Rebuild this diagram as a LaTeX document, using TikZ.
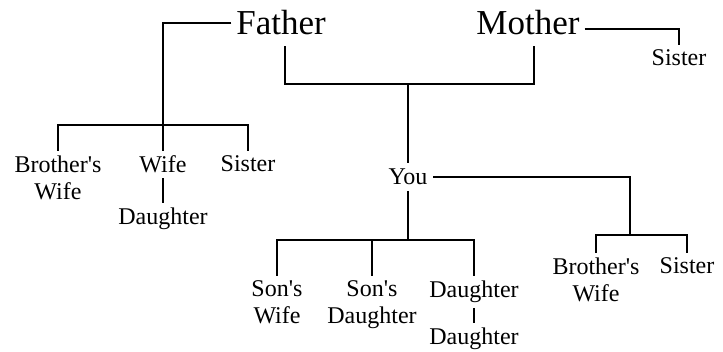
\documentclass[tikz,border=0pt]{standalone}
\usepackage{fontspec}
\setmainfont{Liberation Serif}
\usetikzlibrary{positioning}

\begin{document}
\begin{tikzpicture}[
			x=1pt, y=-1pt,
			line width=2pt,
			parent/.style={font=\fontsize{35}{40}\selectfont, inner xsep=4pt, inner ysep=10pt},
			kin/.style={font=\fontsize{24}{27}\selectfont, align=center, inner sep=4pt, anchor=north},
			self/.style={font=\fontsize{24}{27}\selectfont, inner sep=5pt}
			]
			\useasboundingbox (0,0) rectangle (723,352);
			
			\node (father) at (281, 23) [parent] {Father};
			\node (mother) at (528, 23) [parent] {Mother};
			\node (momsis) at (679, 45) [kin] {Sister};
			
			\node (bwife1) at (58, 151) [kin] {Brother\textquotesingle s\\Wife};
			\node (wife1) at (163, 151) [kin] {Wife};
			\node (sister1) at (248, 151) [kin] {Sister};
			\node (dau1) [below=25pt of wife1, kin] {Daughter};
			
			\node (you) at (408, 177) [self] {You};
			
			\node (swife) at (277, 276) [kin] {Son\textquotesingle s\\Wife};
			\node (sdau) at (372, 276) [kin] {Son\textquotesingle s\\Daughter};
			\node (dau2) at (474, 276) [kin] {Daughter};
			\node (dau3) [below=15pt of dau2, kin] {Daughter};
			
			\node (bwife2) at (596, 253) [kin] {Brother\textquotesingle s\\Wife};
			\node (sister2) at (687, 253) [kin] {Sister};
			
			\coordinate (fbar) at (163, 125);
			\coordinate (pbar) at (408, 84);
			\coordinate (cbar) at (408, 240);
			\coordinate (rbar) at (630, 235);
			
			\draw (father.west) -| (wife1.north);
			\draw (bwife1.north) |- (fbar) -| (sister1.north);
			\draw (wife1) -- (dau1);
			\draw ([xshift=4pt]father.south) |- (pbar) -| ([xshift=6pt]mother.south);
			\draw ([yshift=-6pt]mother.east) -| (momsis.north);
			\draw (pbar) -- (you.north);
			\draw (you.south) -- (cbar);
			\draw (swife.north) |- (cbar) -| (dau2.north);
			\draw (sdau.north) -- (sdau.north |- cbar);
			\draw (dau2) -- (dau3);
			\draw (you.east) -| (rbar);
			\draw (bwife2.north) |- (rbar) -| (sister2.north);
		\end{tikzpicture}
\end{document}
